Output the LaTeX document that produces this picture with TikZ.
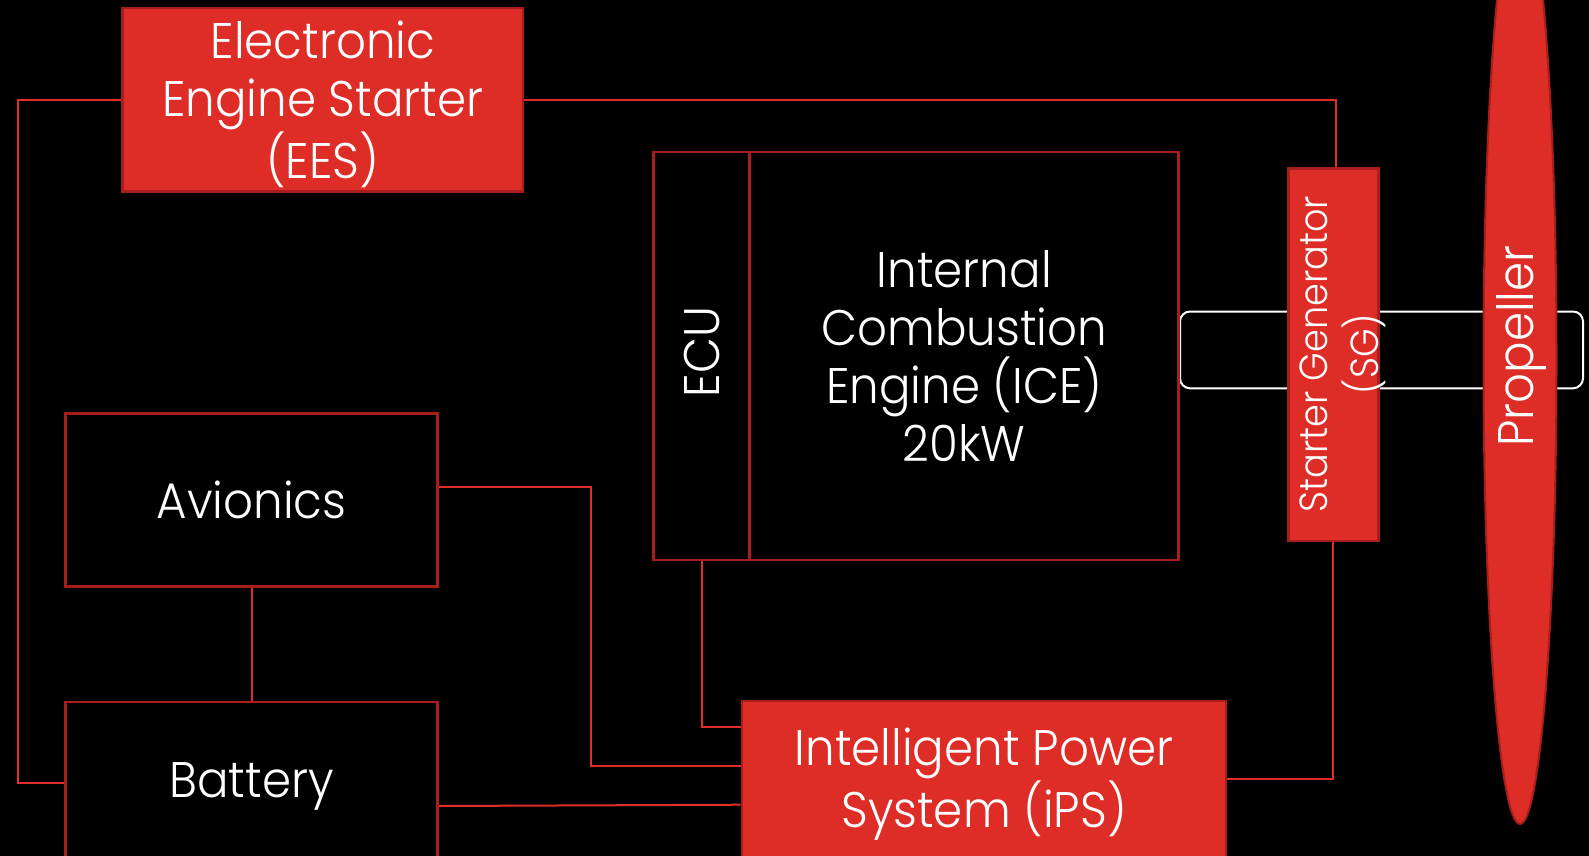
\documentclass[tikz,border=0pt]{standalone}
\usepackage{fontspec}
\setmainfont{Poppins Light}[FakeStretch=0.935]
\usetikzlibrary{calc}
\definecolor{boxred}{RGB}{222,45,39}
\definecolor{edgered}{RGB}{168,30,28}
\definecolor{wirered}{RGB}{226,46,40}
\begin{document}
\begin{tikzpicture}[x=0.5pt,y=-0.5pt,
 txt/.style={text=white,font=\fontsize{25}{29}\selectfont,align=center},
 redbox/.style={txt,draw=edgered,fill=boxred,line width=1.35pt,rectangle,inner sep=0pt},
 blkbox/.style={txt,draw=edgered,fill=black,line width=1.35pt,rectangle,inner sep=0pt},
 wire/.style={draw=wirered,line width=1pt},
 sgtxt/.style={text=white,font=\fontsize{19.6}{25.5}\selectfont,align=center,rotate=90,inner sep=0pt}]
\fill[black] (0,0) rectangle (1589,856);
\useasboundingbox (0,0) rectangle (1589,856);
\clip (0,0) rectangle (1589,856);

% shaft (white rounded outline)
\draw[white,line width=1pt,rounded corners=5pt] (1180,311.5) rectangle (1583,388.3);

% boxes
\node[redbox,minimum width=200.25pt,minimum height=91.75pt] (ees) at (322.75,99.75) {};
\node[txt,inner sep=0pt] (eest) at (322.75,104.5) {Electronic\\Engine Starter\\(EES)};
\node[blkbox,minimum width=48.1pt,minimum height=204pt] (ecu) at (701.7,356) {};
\node[txt,rotate=90,inner sep=0pt] (ecut) at (701.7,352) {ECU};
\node[blkbox,minimum width=214.5pt,minimum height=204pt] (ice) at (964.3,356) {Internal\\Combustion\\Engine (ICE)\\20kW};
\node[redbox,minimum width=45.1pt,minimum height=186.35pt] (sg) at (1333.4,354.65) {};
\node[sgtxt] (sgt) at (1342.5,354) {Starter Generator\\(SG)};
\node[blkbox,minimum width=186pt,minimum height=86.6pt] (av) at (251.5,499.9) {Avionics};
\node[blkbox,minimum width=186pt,minimum height=81pt] (bat) at (251.5,783) {};
\node[txt,inner sep=0pt] (batt) at (251.5,786) {Battery};
\node[redbox,minimum width=242pt,minimum height=78pt] (ips) at (984,779) {};
\node[txt,inner sep=0pt] (ipst) at (984,784) {Intelligent Power\\System (iPS)};

% propeller
\fill[boxred,draw=edgered,line width=1pt] (1520,360) ellipse [x radius=18.25pt, y radius=232pt];
\node[txt,rotate=90,inner sep=0pt] (prop) at (1521,346) {Propeller};

% connectors
\coordinate (cl) at (18,99.75);
\draw[wire] (ees.west) -- (cl) |- (bat.west);
\coordinate (cr) at (1336,99.75);
\draw[wire] (ees.east) -- (cr) -- (cr |- sg.north);
\draw[wire] (av.south) -- (bat.north);
\coordinate (avE) at ($(av.east)+(0,-12.6)$);
\coordinate (c1) at (591,766);
\draw[wire] (avE) -| (c1) -- (c1 -| ips.west);
\coordinate (c2) at (701.7,727.3);
\draw[wire] (ecu.south) -- (c2) -- (c2 -| ips.west);
\coordinate (batE) at ($(bat.east)+(0,23)$);
\coordinate (c3) at (742,804.7);
\draw[wire] (batE) -- (c3 -| ips.west);
\draw[wire] (ips.east) -| (sg.south);
\end{tikzpicture}
\end{document}
